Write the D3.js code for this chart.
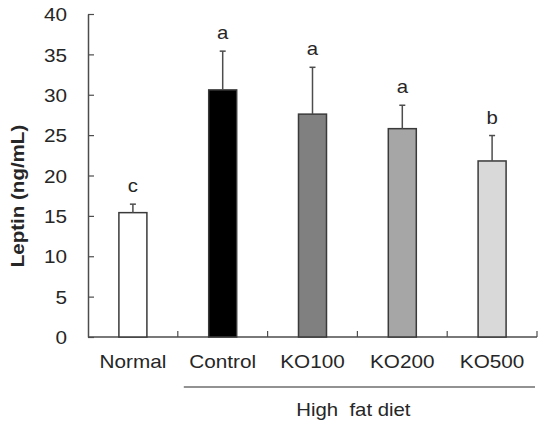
<!DOCTYPE html>
<html>
<head>
<meta charset="utf-8">
<script src="https://cdn.jsdelivr.net/npm/d3@7"></script>
<style>
  body { margin: 0; background: #fff; }
  text { font-family: "Liberation Sans", Arial, sans-serif; fill: #262626; }
</style>
</head>
<body>
<div id="graph"></div>
<script>
// leptin values
var groups = ['Normal', 'Control', 'KO100', 'KO200', 'KO500']
var means = [15.4, 30.6, 27.6, 25.8, 21.8]
var errs = [1.05, 4.8, 5.8, 2.9, 3.15]
var letters = ['c', 'a', 'a', 'a', 'b']
var fills = ['#ffffff', '#000000', '#808080', '#a6a6a6', '#d9d9d9']
var yTicks = [0, 5, 10, 15, 20, 25, 30, 35, 40]

var width = 539, height = 426
var margin = {top: 14, left: 88, right: 2, bottom: 89}
var fs = '18.5px'

var svg = d3.select('#graph').append('svg')
    .attr('width', width)
    .attr('height', height)

var x = d3.scaleBand()
    .domain(groups)
    .range([margin.left, width - margin.right])

var y = d3.scaleLinear()
    .domain([0, 40])
    .range([height - margin.bottom, margin.top])

var axisColor = '#4d4d4d'

// the source font is a bit wider than Liberation, stretch text a little
function widen(sel, k){
  sel.each(function(){
    var len = this.getComputedTextLength()
    d3.select(this).attr('textLength', len * k).attr('lengthAdjust', 'spacingAndGlyphs')
  })
}

// y axis, ticks pointing in
var yAxis = svg.append('g')
    .attr('transform', 'translate(' + margin.left + ',0)')
    .call(d3.axisLeft(y).tickValues(yTicks).tickSizeInner(-6).tickSizeOuter(0).tickPadding(21))
yAxis.select('.domain').attr('stroke', axisColor).attr('stroke-width', 1.5)
yAxis.selectAll('.tick line').attr('stroke', axisColor).attr('stroke-width', 1.2)
yAxis.selectAll('.tick text')
    .style('font-size', fs)
    .attr('fill', '#262626')
    .attr('dy', '0.36em')
    .call(widen, 1.12)

// x axis: separators between groups, ticks pointing up
var xBase = y(0)
var bounds = groups.map(g => x(g)).concat([x.range()[1]])
svg.append('line')
    .attr('x1', margin.left).attr('x2', x.range()[1])
    .attr('y1', xBase).attr('y2', xBase)
    .attr('stroke', axisColor).attr('stroke-width', 1.5)
svg.selectAll('line.xtick').data(bounds.slice(1)).enter().append('line')
    .attr('class', 'xtick')
    .attr('x1', d => d).attr('x2', d => d)
    .attr('y1', xBase).attr('y2', xBase - 6)
    .attr('stroke', axisColor).attr('stroke-width', 1.2)

svg.selectAll('text.xlab').data(groups).enter().append('text')
    .attr('class', 'xlab')
    .attr('x', d => x(d) + x.bandwidth() / 2)
    .attr('y', xBase + 31)
    .attr('text-anchor', 'middle')
    .style('font-size', fs)
    .text(d => d)
    .call(widen, 1.12)

// bars
var bw = 28
svg.selectAll('rect.bar').data(groups).enter().append('rect')
    .attr('class', 'bar')
    .attr('x', d => x(d) + x.bandwidth() / 2 - bw / 2)
    .attr('width', bw)
    .attr('y', (d, i) => y(means[i]))
    .attr('height', (d, i) => y(0) - y(means[i]))
    .attr('fill', (d, i) => fills[i])
    .attr('stroke', '#3a3a3a')
    .attr('stroke-width', 1.5)

// error bars (upper only) + significance letters
var errSel = svg.selectAll('g.err').data(groups).enter().append('g')
    .attr('class', 'err')
    .attr('transform', d => 'translate(' + (x(d) + x.bandwidth() / 2) + ',0)')
errSel.append('line')
    .attr('y1', (d, i) => y(means[i]))
    .attr('y2', (d, i) => y(means[i] + errs[i]))
    .attr('stroke', '#4d4d4d').attr('stroke-width', 1.5)
errSel.append('line')
    .attr('x1', -3).attr('x2', 3)
    .attr('y1', (d, i) => y(means[i] + errs[i]))
    .attr('y2', (d, i) => y(means[i] + errs[i]))
    .attr('stroke', '#4d4d4d').attr('stroke-width', 1.5)
errSel.append('text')
    .attr('y', (d, i) => y(means[i] + errs[i]) - 12)
    .attr('text-anchor', 'middle')
    .style('font-size', fs)
    .text((d, i) => letters[i])
    .call(widen, 1.1)

// high fat diet bracket
var hfStart = x('Control') + 6, hfEnd = x.range()[1] - 2
svg.append('line')
    .attr('x1', hfStart).attr('x2', hfEnd)
    .attr('y1', 387).attr('y2', 387)
    .attr('stroke', '#6e6e6e').attr('stroke-width', 1.5)
svg.append('text')
    .attr('x', (hfStart + hfEnd) / 2 - 6)
    .attr('y', 416)
    .attr('text-anchor', 'middle')
    .style('font-size', fs)
    .style('white-space', 'pre')
    .text('High  fat diet')
    .call(widen, 1.1)

// y label
svg.append('text')
    .attr('transform', 'translate(24,196) rotate(-90)')
    .attr('text-anchor', 'middle')
    .style('font-size', '19px')
    .style('font-weight', 'bold')
    .text('Leptin (ng/mL)')
    .call(widen, 1.08)
</script>
</body>
</html>
